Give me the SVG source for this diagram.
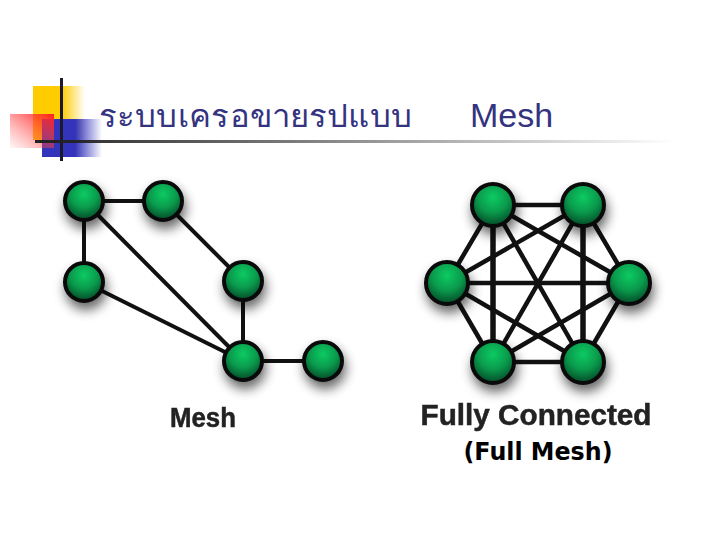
<svg xmlns="http://www.w3.org/2000/svg" width="720" height="540" viewBox="0 0 720 540">
<style>
.l{stroke:#111;stroke-width:4;fill:none}
.f{stroke:#111;stroke-width:4.5;fill:none}
.n{fill:url(#g);stroke:#0a0a0a;stroke-width:4}
.s{fill:#000;opacity:.6;filter:url(#b)}
.t{font-family:"Liberation Sans",Arial,sans-serif;font-weight:bold;fill:#222;stroke:#222;stroke-width:.5}
</style>
<defs>
<radialGradient id="g" cx="50%" cy="32%" r="65%"><stop offset="0" stop-color="#0ccb62"/><stop offset=".55" stop-color="#0a9a4c"/><stop offset="1" stop-color="#04502a"/></radialGradient>
<filter id="b" x="-60%" y="-60%" width="220%" height="220%"><feGaussianBlur stdDeviation="6"/></filter>
<filter id="tb" x="-5%" y="-20%" width="110%" height="140%"><feGaussianBlur stdDeviation=".5"/></filter>
<linearGradient id="y" x1="0" x2="1" y1="0" y2="0"><stop offset="0" stop-color="#ffcc00"/><stop offset=".55" stop-color="#ffcc00"/><stop offset="1" stop-color="#ffcc00" stop-opacity="0"/></linearGradient>
<linearGradient id="bl" x1="0" x2="1" y1="0" y2="0"><stop offset="0" stop-color="#3333bb"/><stop offset=".55" stop-color="#3333bb"/><stop offset="1" stop-color="#3333bb" stop-opacity="0"/></linearGradient>
<linearGradient id="r" x1="1" x2="0" y1="0" y2="1"><stop offset="0" stop-color="#ff2020"/><stop offset="1" stop-color="#ff6060" stop-opacity=".05"/></linearGradient>
<linearGradient id="ln" x1="0" x2="1" y1="0" y2="0"><stop offset="0" stop-color="#222"/><stop offset="1" stop-color="#222" stop-opacity="0"/></linearGradient>
</defs>
<rect width="720" height="540" fill="#fff"/>
<g id="decor">
<rect x="33" y="86" width="52" height="54" fill="url(#y)"/>
<rect x="42" y="119" width="60" height="38" fill="url(#bl)"/>
<rect x="10" y="114" width="44" height="34" fill="url(#r)"/>
<rect x="60" y="78" width="3" height="83" fill="#1a1a2a"/>
<rect x="35" y="140" width="640" height="3" fill="url(#ln)"/>
</g>
<g id="title" font-family="'Noto Sans','DejaVu Sans',sans-serif" fill="#333380">
<text x="99" y="127" font-size="31" textLength="313" lengthAdjust="spacingAndGlyphs">ระบบเครอขายรปแบบ</text>
<text x="470" y="127" font-family="'Liberation Sans',Arial,sans-serif" font-size="34">Mesh</text>
</g>
<g id="connectors">
<g class="l">
<line x1="84" y1="201" x2="163" y2="201"/>
<line x1="84" y1="201" x2="84" y2="282"/>
<line x1="84" y1="201" x2="243" y2="361"/>
<line x1="84" y1="282" x2="243" y2="361"/>
<line x1="163" y1="201" x2="243" y2="281"/>
<line x1="243" y1="281" x2="243" y2="361"/>
<line x1="243" y1="361" x2="323" y2="361"/>
</g>
<g class="f">
<line x1="493" y1="205" x2="583" y2="205"/>
<line x1="493" y1="205" x2="447" y2="283"/>
<line x1="493" y1="205" x2="629" y2="283"/>
<line x1="493" y1="205" x2="493" y2="362" stroke-width="5.5"/>
<line x1="493" y1="205" x2="583" y2="362"/>
<line x1="583" y1="205" x2="447" y2="283"/>
<line x1="583" y1="205" x2="629" y2="283"/>
<line x1="583" y1="205" x2="493" y2="362"/>
<line x1="583" y1="205" x2="583" y2="362" stroke-width="5.5"/>
<line x1="447" y1="283" x2="629" y2="283"/>
<line x1="447" y1="283" x2="493" y2="362"/>
<line x1="447" y1="283" x2="583" y2="362"/>
<line x1="629" y1="283" x2="493" y2="362"/>
<line x1="629" y1="283" x2="583" y2="362"/>
<line x1="493" y1="362" x2="583" y2="362"/>
</g>
</g>
<g id="mesh-a"><circle class="s" cx="86" cy="208" r="21"/><circle class="n" cx="84" cy="201" r="19"/></g>
<g id="mesh-b"><circle class="s" cx="165" cy="208" r="21"/><circle class="n" cx="163" cy="201" r="19"/></g>
<g id="mesh-c"><circle class="s" cx="86" cy="289" r="21"/><circle class="n" cx="84" cy="282" r="19"/></g>
<g id="mesh-d"><circle class="s" cx="245" cy="288" r="21"/><circle class="n" cx="243" cy="281" r="19"/></g>
<g id="mesh-e"><circle class="s" cx="245" cy="368" r="21"/><circle class="n" cx="243" cy="361" r="19"/></g>
<g id="mesh-f"><circle class="s" cx="325" cy="368" r="21"/><circle class="n" cx="323" cy="361" r="19"/></g>
<g id="full-a"><circle class="s" cx="495" cy="212" r="23"/><circle class="n" cx="493" cy="205" r="21"/></g>
<g id="full-b"><circle class="s" cx="585" cy="212" r="23"/><circle class="n" cx="583" cy="205" r="21"/></g>
<g id="full-c"><circle class="s" cx="449" cy="290" r="23"/><circle class="n" cx="447" cy="283" r="21"/></g>
<g id="full-d"><circle class="s" cx="631" cy="290" r="23"/><circle class="n" cx="629" cy="283" r="21"/></g>
<g id="full-e"><circle class="s" cx="495" cy="369" r="23"/><circle class="n" cx="493" cy="362" r="21"/></g>
<g id="full-f"><circle class="s" cx="585" cy="369" r="23"/><circle class="n" cx="583" cy="362" r="21"/></g>
<g id="labels">
<text class="t" x="203" y="427" font-size="27" text-anchor="middle" textLength="66" lengthAdjust="spacingAndGlyphs" filter="url(#tb)">Mesh</text>
<text class="t" x="536" y="425" font-size="29" text-anchor="middle" textLength="231" lengthAdjust="spacingAndGlyphs" filter="url(#tb)">Fully Connected</text>
<text x="538" y="460" font-family="'DejaVu Sans',sans-serif" font-weight="bold" font-size="24" text-anchor="middle" fill="#000" textLength="149" lengthAdjust="spacingAndGlyphs">(Full Mesh)</text>
</g>
</svg>
